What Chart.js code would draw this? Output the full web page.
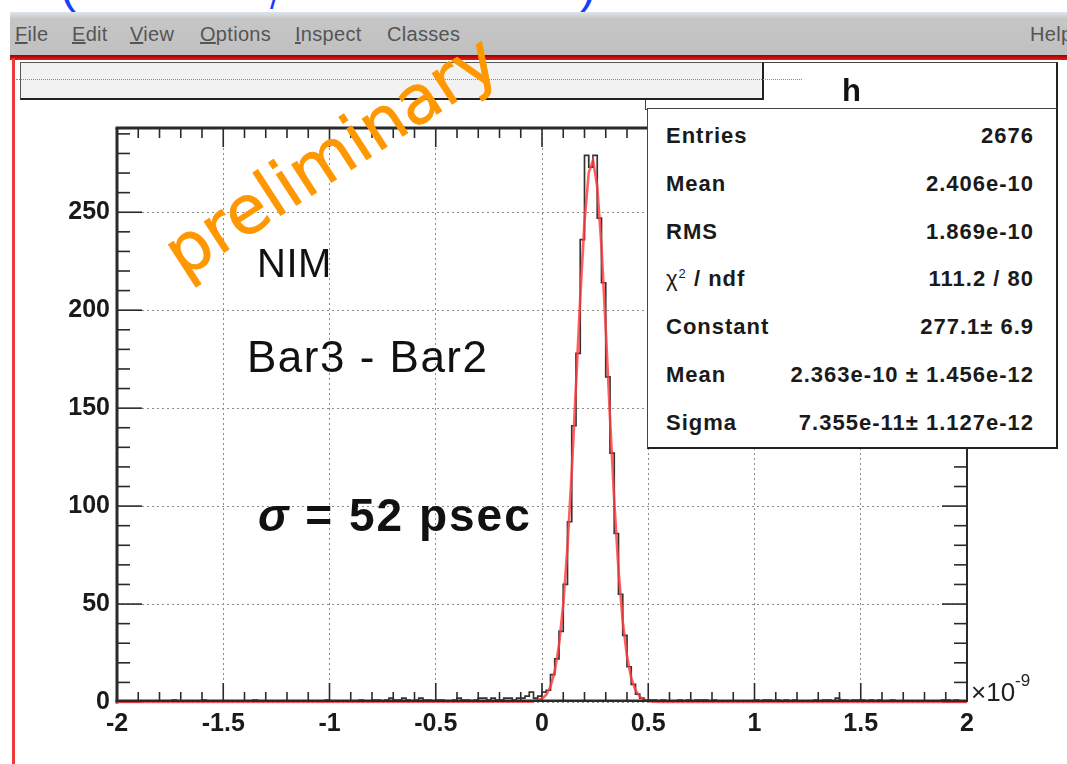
<!DOCTYPE html>
<html><head><meta charset="utf-8">
<script src="https://cdn.jsdelivr.net/npm/chart.js@4.4.1/dist/chart.umd.min.js"></script>
<style>
html,body{margin:0;padding:0;background:#fff;width:1067px;height:764px;overflow:hidden;font-family:"Liberation Sans",Arial,sans-serif;}
#wrap{position:relative;width:1067px;height:764px;overflow:hidden;}
.abs{position:absolute;}
#bluetop{left:0;top:-38px;color:#1a3cff;font-size:48px;line-height:1;}
#menubar{left:10px;top:12px;width:1057px;height:43px;background:linear-gradient(#dfe5ec 0px,#c6c6c6 7px,#c0c0c0 100%);}
.menu{position:absolute;top:11px;font-size:20px;color:#555;line-height:22px;letter-spacing:0.3px;}
#redbar{left:10px;top:55px;width:1057px;height:5px;background:linear-gradient(#9c0000,#e41c1c);}
#redleft{left:12px;top:58px;width:3px;height:706px;background:#ee3a3a;}
canvas{position:absolute;left:0;top:0;}
#statsHead{left:645px;top:62px;width:410px;height:46px;background:#fff;border:1px solid #444;border-right:2px solid #222;}
#statsHead span{position:absolute;left:196px;top:11px;font-size:31px;font-weight:bold;color:#111;line-height:34px;}
#titlebox{left:20px;top:62px;width:741px;height:35px;background:#f2f2f2;border:1px solid #555;border-bottom:2px solid #222;border-right:2px solid #222;}
#titletext{left:16px;top:79px;width:786px;height:0;border-top:1px dotted #8a8a8a;}
#stats{left:647px;top:108px;width:408px;height:338px;background:#fff;border:1px solid #444;border-right:2px solid #222;border-bottom:2px solid #222;}
.row{position:absolute;left:18px;right:22px;display:flex;justify-content:space-between;font-weight:bold;font-size:22px;letter-spacing:1px;line-height:24px;color:#1a1a1a;}
.chi{font-weight:normal;}
.ann{position:absolute;line-height:1;color:#111;white-space:nowrap;}
#prelim{position:absolute;left:331px;top:156px;transform:translate(-50%,-50%) rotate(-33deg);font-family:"DejaVu Sans",sans-serif;font-size:67px;line-height:1;color:#ff9700;white-space:nowrap;-webkit-text-stroke:0.8px #ff9700;}
#x10{left:971px;top:679px;font-size:26px;color:#222;line-height:1;white-space:nowrap;}
#x10 sup{font-size:17px;vertical-align:top;position:relative;top:-7px;}
</style></head>
<body><div id="wrap">
<div id="bluetop" class="abs"><span style="position:absolute;left:60px">(</span><span style="position:absolute;left:270px;font-size:34px;top:18px">/</span><span style="position:absolute;left:580px">)</span></div>
<div id="menubar" class="abs">
 <span class="menu" style="left:5px"><u>F</u>ile</span>
 <span class="menu" style="left:62px"><u>E</u>dit</span>
 <span class="menu" style="left:120px"><u>V</u>iew</span>
 <span class="menu" style="left:190px"><u>O</u>ptions</span>
 <span class="menu" style="left:285px"><u>I</u>nspect</span>
 <span class="menu" style="left:377px">Classes</span>
 <span class="menu" style="left:1020px">Help</span>
</div>
<div id="redbar" class="abs"></div>
<div id="redleft" class="abs"></div>
<canvas id="c" width="1067" height="764"></canvas>
<div id="statsHead" class="abs"><span>h</span></div>
<div id="titlebox" class="abs"></div>
<div id="titletext" class="abs"></div>
<div id="stats" class="abs"></div>
<div class="ann" style="left:257px;top:243px;font-size:40px;letter-spacing:0.5px;">NIM</div>
<div class="ann" style="left:247px;top:335px;font-size:44px;letter-spacing:1.5px;">Bar3 - Bar2</div>
<div class="ann" style="left:258px;top:492px;font-size:46px;font-weight:bold;letter-spacing:2px;"><i>σ</i> = 52 psec</div>
<div id="x10" class="abs">×10<sup>-9</sup></div>
<div id="prelim">preliminary</div>
</div>
<script>
// ---- data ----
const xMin = -2, xMax = 2, yMax = 293;
const binWidth = 0.02;
// bins -2.00 .. 0.00
const countsLeft = [
 0,0,0,0,0,0,0,0,0,0,
 0,0,0,1,0,0,0,0,0,0,
 1,0,0,0,0,0,0,0,0,0,
 0,0,1,0,0,0,0,0,0,0,
 0,0,0,0,0,0,0,0,0,1,
 0,0,0,0,0,0,0,1,0,0,
 1,1,0,1,2,1,1,2,1,0,
 1,2,1,1,0,1,1,0,0,1,
 2,1,1,0,1,2,2,1,2,1,
 1,2,2,1,2,2,3,5,2,3
];
// bins 0.00 .. 0.50
const countsPeak = [5,6,14,22,36,60,92,141,178,236,279,273,279,247,214,166,127,86,55,34,18,9,4,2,1];
// bins 0.50 .. 2.00
const countsRight = [
 1,1,0,1,0,0,0,1,0,1,0,1,1,1,0,
 1,0,0,0,0,0,0,0,0,0,1,0,1,1,0,
 1,0,1,0,1,0,0,0,0,1,0,1,1,0,2,
 1,1,0,1,1,1,0,1,0,1,0,0,1,0,0,
 0,0,0,0,0,0,0,0,0,1,1,0,1,0,0
];
// gaussian fit curve as drawn (x in ns, y in counts)
const fitX = [-2,-0.05,0,0.02,0.04,0.06,0.08,0.10,0.12,0.14,0.16,0.18,0.20,0.22,0.24,0.26,0.28,0.30,0.32,0.34,0.36,0.38,0.40,0.42,0.44,0.46,0.48,0.50,0.55,2];
const fitY = [0,0.1,1.6,3.7,7.9,15.6,29,49.8,79.4,117.6,161.7,206.7,245.2,270.3,276.6,263,232.2,190.4,145,102.5,67.4,41,23.3,12.2,6,2.7,1.1,0.45,0,0];
// stats box
const statLabels = ["Entries","Mean","RMS","χ² / ndf","Constant","Mean","Sigma"];
const statValues = ["2676","2.406e-10","1.869e-10","111.2 / 80","277.1± 6.9","2.363e-10 ± 1.456e-12","7.355e-11± 1.127e-12"];
const yTickStep = 50, xTickStep = 0.5;

// ---- stats box ----
const stats = document.getElementById('stats');
statLabels.forEach((l,i)=>{
  const r = document.createElement('div');
  r.className='row';
  r.style.top = (15 + i*47.8)+'px';
  const a = document.createElement('span');
  if (l.startsWith('χ')) { a.innerHTML = '<span class="chi">χ</span><span style="font-size:13px;font-weight:normal;position:relative;top:-8px">2</span> / ndf'; }
  else a.textContent = l;
  const b = document.createElement('span'); b.textContent = statValues[i];
  r.appendChild(a); r.appendChild(b); stats.appendChild(r);
});

// ---- histogram points ----
const counts = countsLeft.concat(countsPeak, countsRight);
const histPts = [{x:xMin, y:0}];
counts.forEach((c,i)=>histPts.push({x: xMin + i*binWidth, y: c}));
histPts.push({x: xMax, y: counts[counts.length-1]});
const fitPts = fitX.map((x,i)=>({x, y: fitY[i]}));

const line=(ctx,x1,y1,x2,y2)=>{ctx.beginPath();ctx.moveTo(x1,y1);ctx.lineTo(x2,y2);ctx.stroke();};
const rootFrame = {
  id:'rootFrame',
  beforeDatasetsDraw(chart){
    const {ctx, chartArea:a, scales:{x,y}} = chart;
    ctx.save();
    ctx.strokeStyle='#2a2a2a';
    ctx.lineWidth=1.6;
    for (let v=0; v<=yMax; v+=10){
      const py=y.getPixelForValue(v); const len=(v%50===0)?25:13;
      line(ctx,a.left,py,a.left+len,py); line(ctx,a.right,py,a.right-len,py);
    }
    for (let i=-20;i<=20;i++){
      const px=x.getPixelForValue(i/10); const len=(i%5===0)?19:10;
      line(ctx,px,a.bottom,px,a.bottom-len); line(ctx,px,a.top,px,a.top+len);
    }
    ctx.lineWidth=3;
    line(ctx,a.left,a.top,a.left,a.bottom+1.5);
    line(ctx,a.left-1.5,a.top,a.right,a.top);
    ctx.lineWidth=2;
    line(ctx,a.right,a.top,a.right,a.bottom);
    ctx.restore();
  },
  afterDatasetsDraw(chart){
    const {ctx, chartArea:a} = chart;
    ctx.save();
    ctx.strokeStyle='#2a2a2a';
    ctx.lineWidth=2.6;
    line(ctx,a.left-1.5,a.bottom-1.3,a.right,a.bottom-1.3);
    ctx.restore();
  }
};

const tickFont = {family:'"Liberation Sans", Arial, sans-serif', size:25, weight:'bold'};
new Chart(document.getElementById('c'), {
  type:'line',
  data:{datasets:[
    {label:'fit', data:fitPts, borderColor:'rgba(255,60,60,0.82)', borderWidth:2.6, pointRadius:0, tension:0, order:0, clip:5},
    {label:'h', data:histPts, stepped:'before', borderColor:'#333', borderWidth:1.7, pointRadius:0, order:1}
  ]},
  options:{
    responsive:false, animation:false,
    layout:{padding:{top:128, right:100, left:0, bottom:0}},
    plugins:{legend:{display:false}, tooltip:{enabled:false}},
    scales:{
      x:{type:'linear', min:xMin, max:xMax,
         afterFit(s){s.height=62;},
         ticks:{stepSize:xTickStep, includeBounds:false, font:tickFont, color:'#1a1a1a', padding:7, maxRotation:0,
                callback:v=>String(Math.round(v*10)/10)},
         grid:{color:'#8c8c8c', lineWidth:1, drawTicks:false},
         border:{display:false, dash:[2,3]}},
      y:{type:'linear', min:0, max:yMax,
         afterFit(s){s.width=117;},
         ticks:{stepSize:yTickStep, includeBounds:false, font:tickFont, color:'#1a1a1a', padding:7},
         grid:{color:'#8c8c8c', lineWidth:1, drawTicks:false},
         border:{display:false, dash:[2,3]}}
    }
  },
  plugins:[rootFrame]
});
</script>
</body></html>
